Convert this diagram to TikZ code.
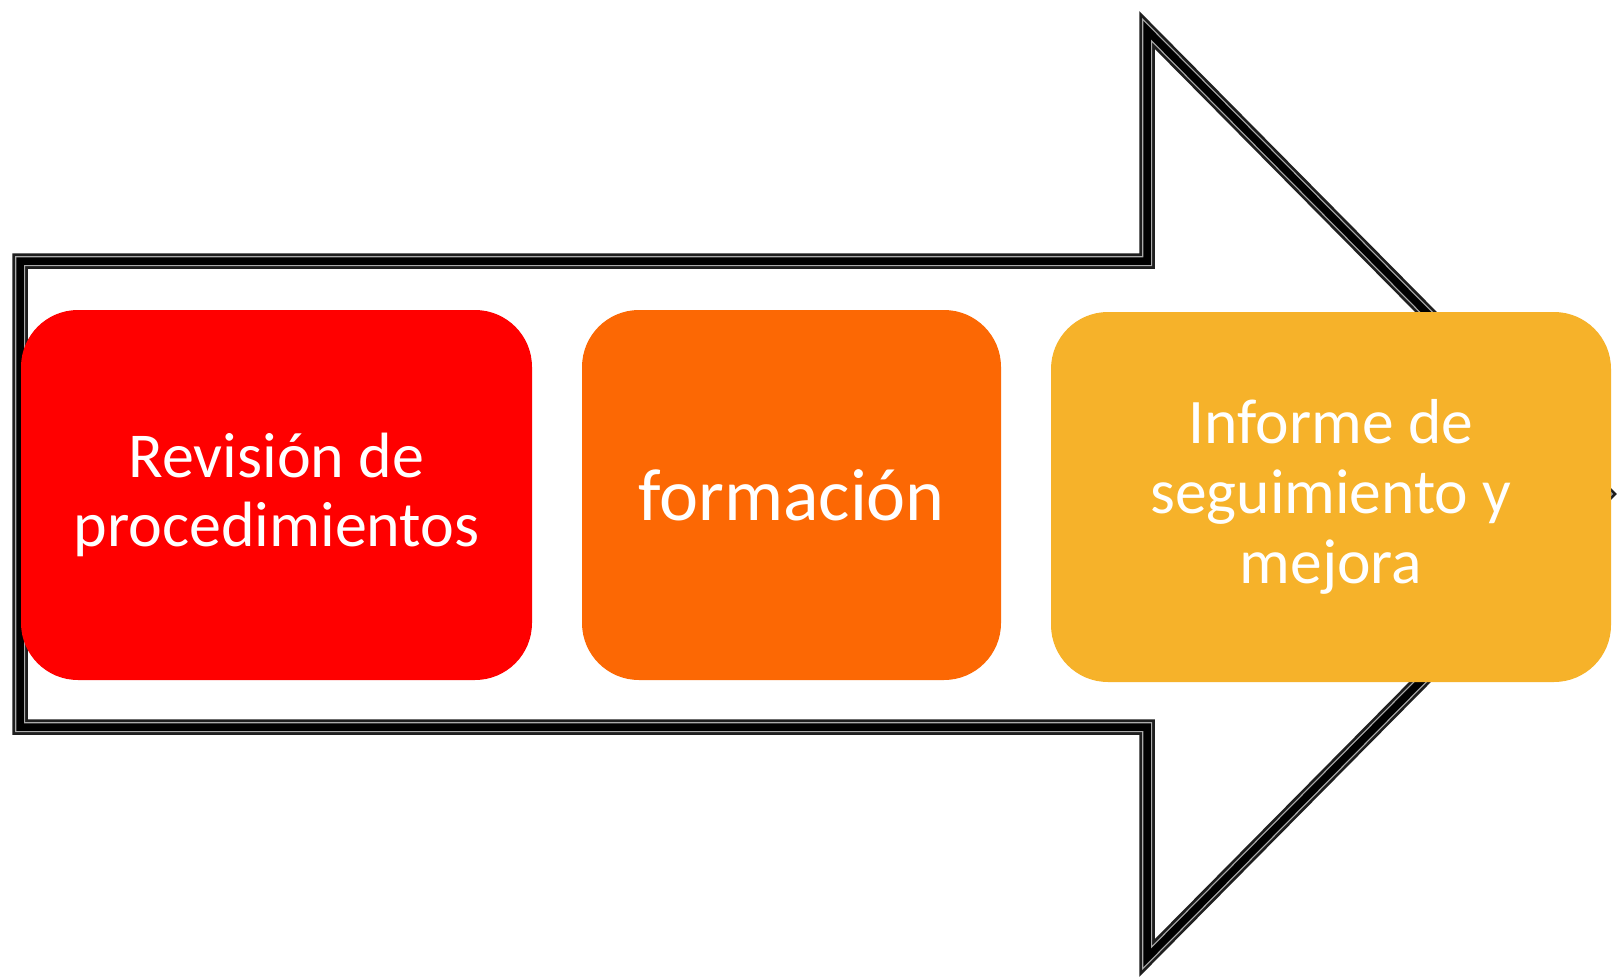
\documentclass[tikz,border=0pt]{standalone}
\usepackage{fontspec}
\setmainfont{Carlito}
\definecolor{cred}{RGB}{255,0,0}
\definecolor{corange}{RGB}{252,104,4}
\definecolor{cgold}{RGB}{246,178,42}
\definecolor{cdark}{RGB}{30,30,30}
\definecolor{clight}{RGB}{170,170,170}
\tikzset{
  stepbox/.style={rounded corners=57pt, inner sep=0pt, align=center, text=white, draw=none},
  arrowpath/.style={line join=miter, miter limit=10}
}
\begin{document}
\begin{tikzpicture}[x=1pt,y=-1pt]
\useasboundingbox (0,0) rectangle (1621,977);
\fill[white] (0,0) rectangle (1621,977);
% big arrow outline (triple line)
\def\arrowshape{(20,261) -- (1147,261) -- (1147,30) -- (1606,494) -- (1147,958) -- (1147,727) -- (20,727) -- cycle}
\draw[arrowpath, fill=white, draw=cdark, line width=15.5pt] \arrowshape;
\draw[arrowpath, draw=clight, line width=10pt] \arrowshape;
\draw[arrowpath, draw=black, line width=7.5pt] \arrowshape;
% boxes
\node[stepbox, fill=cred, minimum width=511pt, minimum height=370pt,
      font=\fontsize{64}{69}\selectfont] (b1) at (276.5,495)
  {Revisión de\\procedimientos};
\node[stepbox, fill=corange, minimum width=419pt, minimum height=370pt,
      font=\fontsize{74}{80}\selectfont] (b2) at (791.5,495)
  {formación};
\node[stepbox, fill=cgold, minimum width=560pt, minimum height=370pt,
      font=\fontsize{63.5}{70}\selectfont] (b3) at (1331,497)
  {Informe de\\seguimiento y\\mejora};
\end{tikzpicture}
\end{document}
